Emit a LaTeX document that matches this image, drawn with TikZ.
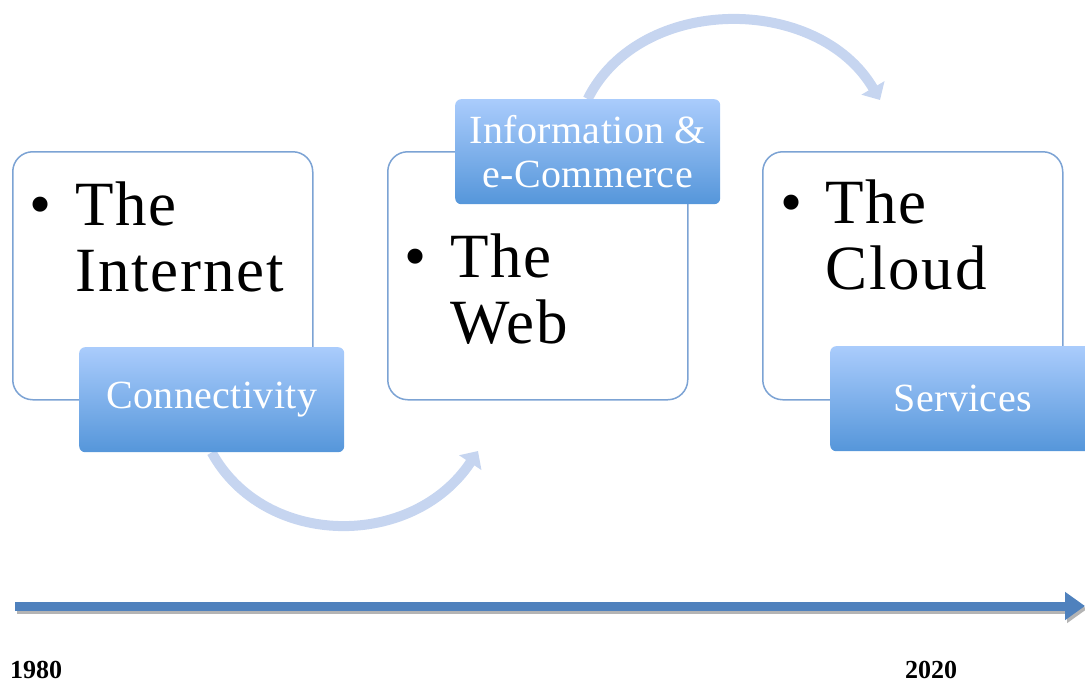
\documentclass[tikz,border=0pt]{standalone}
\usepackage{fontspec}
\setmainfont{Liberation Serif}
\usetikzlibrary{arrows.meta,backgrounds}
\definecolor{frameblue}{RGB}{124,163,212}
\definecolor{tagtop}{RGB}{170,204,252}
\definecolor{tagbottom}{RGB}{85,150,218}
\definecolor{bendblue}{RGB}{198,213,240}
\definecolor{lineblue}{RGB}{79,129,189}
\definecolor{lineshade}{RGB}{180,180,180}

\begin{document}
\begin{tikzpicture}[x=1pt,y=-1pt,
  eraframe/.style={draw=frameblue, line width=1.5pt, fill=white, rounded corners=20pt,
    minimum width=300pt, minimum height=248pt, anchor=north west, inner sep=0pt},
  eratext/.style={anchor=base west, inner sep=0pt,
    font=\fontsize{63}{66}\selectfont\addfontfeature{LetterSpace=3}},
  eratag/.style={rounded corners=6pt, top color=tagtop, bottom color=tagbottom,
    minimum width=265pt, minimum height=105pt, anchor=north west, inner sep=0pt,
    text=white, align=center, font=\fontsize{40}{44}\selectfont\addfontfeature{LetterSpace=1}},
  erabend/.style={draw=bendblue, line width=10pt, -{Triangle[length=14pt,width=26pt]}},
  timeline/.style={draw=lineblue, line width=9pt, -{Triangle[length=20pt,width=27pt]}},
  yearlabel/.style={anchor=base west, inner sep=0pt, font=\fontsize{26}{28}\selectfont\bfseries}]
\clip (0,0) rectangle (1085,683);

% three eras
\foreach \x/\nm in {12/inet,387/web,762/cloud}
  \node[eraframe] (\nm) at (\x,151) {};
\node[eratext] (tinet) at (29,225) {\makebox[46pt][l]{\textbullet}\begin{tabular}[t]{@{}l@{}}The\\Internet\end{tabular}};
\node[eratext] (tweb) at (404,277) {\makebox[46pt][l]{\textbullet}\begin{tabular}[t]{@{}l@{}}The\\Web\end{tabular}};
\node[eratext] (tcloud) at (780,223) {\makebox[45pt][l]{\textbullet}\begin{tabular}[t]{@{}l@{}}The\\Cloud\end{tabular}};

% tags
\node[eratag] (conn) at (79,347) {Connectivity};
\node[eratag] (info) at (455,99) {Information \&\\e-Commerce};
\node[eratag] (serv) at (830,346) {Services};

% bends from one era to the next
\coordinate (webin) at (478,451);
\coordinate (cloudin) at (880,100);
\begin{scope}[on background layer]
\draw[erabend] (conn.south) .. controls (265,549) and (413,549) .. (webin);
\draw[erabend] (info.north) .. controls (640,-6) and (818,-6) .. (cloudin);
\end{scope}

% time axis
\coordinate (tlstart) at (15,606);
\coordinate (tlend) at (1085,606);
\draw[timeline, draw=lineshade] ([shift={(2,3)}]tlstart) -- ([shift={(2,3)}]tlend);
\draw[timeline] (tlstart) -- (tlend);
\node[yearlabel] (y1980) at (10,678) {1980};
\node[yearlabel] (y2020) at (905,678) {2020};
\end{tikzpicture}
\end{document}
